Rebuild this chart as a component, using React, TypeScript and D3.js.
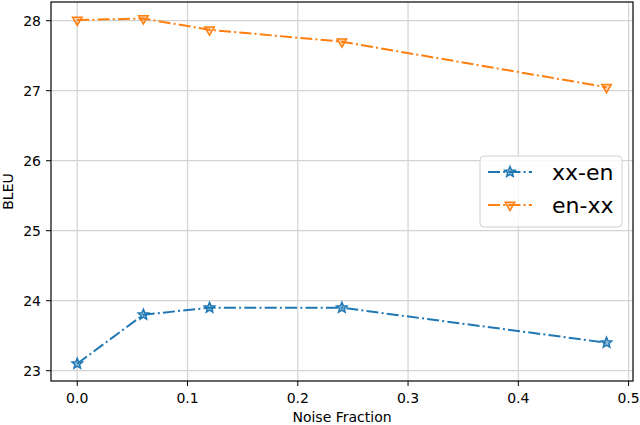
import React from "react";
import * as d3 from "d3";

const noiseFractions = [0.0, 0.06, 0.12, 0.24, 0.48];
const xxEn = [23.1, 23.8, 23.9, 23.9, 23.4];
const enXx = [28.01, 28.03, 27.87, 27.7, 27.05];
const xTicks = [0.0, 0.1, 0.2, 0.3, 0.4, 0.5];
const yTicks = [23, 24, 25, 26, 27, 28];
const seriesNames = ["xx-en", "en-xx"];
const seriesColors = ["#1f77b4", "#ff7f0e"];

const W = 640;
const H = 425;
const left = 51;
const right = 633;
const top = 2;
const bottom = 381;

const FONT = "DejaVu Sans, sans-serif";
const DASH = "12,3.2,2,3.2";

function starPath(cx: number, cy: number, r: number) {
  const pts: string[] = [];
  const inner = r * 0.45;
  for (let i = 0; i < 10; i++) {
    const ang = -Math.PI / 2 + (i * Math.PI) / 5;
    const rr = i % 2 === 0 ? r : inner;
    pts.push(`${cx + rr * Math.cos(ang)},${cy + rr * Math.sin(ang)}`);
  }
  return "M" + pts.join("L") + "Z";
}

function triPath(cx: number, cy: number, r: number) {
  const pts: string[] = [];
  for (let i = 0; i < 3; i++) {
    const ang = Math.PI / 2 + (i * 2 * Math.PI) / 3;
    pts.push(`${cx + r * Math.cos(ang)},${cy + r * Math.sin(ang)}`);
  }
  return "M" + pts.join("L") + "Z";
}

function Marker({ kind, x, y, color }: { kind: number; x: number; y: number; color: string }) {
  if (kind === 0) {
    return <path d={starPath(x, y, 5.5)} fill={color} fillOpacity={0.45} stroke={color} strokeWidth={1.5} />;
  }
  return <path d={triPath(x, y, 5.5)} fill={color} fillOpacity={0.3} stroke={color} strokeWidth={1.5} />;
}

export default function App() {
  const x = d3.scaleLinear().domain([-0.0238, 0.504]).range([left, right]);
  const y = d3.scaleLinear().domain([22.853, 28.267]).range([bottom, top]);
  const line = d3
    .line<number>()
    .x((_, i) => x(noiseFractions[i]))
    .y((d) => y(d));
  const series = [xxEn, enXx];

  return (
    <svg
      width={W}
      height={H}
      style={{ position: "absolute", left: 0, top: 0, background: "#fff" }}
      fontFamily={FONT}
    >
      <rect x={0} y={0} width={W} height={H} fill="#fff" />
      {xTicks.map((t) => (
        <line key={"gx" + t} x1={x(t)} x2={x(t)} y1={top} y2={bottom} stroke="#d3d3d3" strokeWidth={1.2} />
      ))}
      {yTicks.map((t) => (
        <line key={"gy" + t} x1={left} x2={right} y1={y(t)} y2={y(t)} stroke="#d3d3d3" strokeWidth={1.2} />
      ))}
      {series.map((s, si) => (
        <g key={"s" + si}>
          <path d={line(s) || ""} fill="none" stroke={seriesColors[si]} strokeWidth={2} strokeDasharray={DASH} />
          {s.map((v, i) => (
            <Marker key={i} kind={si} x={x(noiseFractions[i])} y={y(v)} color={seriesColors[si]} />
          ))}
        </g>
      ))}
      <rect x={left} y={top} width={right - left} height={bottom - top} fill="none" stroke="#000" strokeWidth={1.2} />
      {xTicks.map((t) => (
        <g key={"tx" + t}>
          <line x1={x(t)} x2={x(t)} y1={bottom} y2={bottom + 5} stroke="#000" strokeWidth={1} />
          <text x={x(t)} y={403} textAnchor="middle" fontSize={14} fill="#000">
            {d3.format(".1f")(t)}
          </text>
        </g>
      ))}
      {yTicks.map((t) => (
        <g key={"ty" + t}>
          <line x1={left - 5} x2={left} y1={y(t)} y2={y(t)} stroke="#000" strokeWidth={1} />
          <text x={41} y={y(t)} dy="0.36em" textAnchor="end" fontSize={14} fill="#000">
            {t}
          </text>
        </g>
      ))}
      <text x={342} y={422} textAnchor="middle" fontSize={14} fill="#000">
        Noise Fraction
      </text>
      <text transform={`translate(12.5,${(top + bottom) / 2}) rotate(-90)`} textAnchor="middle" fontSize={14} fill="#000">
        BLEU
      </text>
      <rect x={480} y={156} width={142} height={71} rx={4} fill="#fff" fillOpacity={0.8} stroke="#d0d0d0" strokeWidth={1} />
      {seriesNames.map((n, i) => {
        const ly = i === 0 ? 172 : 205;
        return (
          <g key={"lg" + n}>
            <line x1={488} x2={532} y1={ly} y2={ly} stroke={seriesColors[i]} strokeWidth={2} strokeDasharray={DASH} />
            <Marker kind={i} x={510} y={ly} color={seriesColors[i]} />
            <text x={552} y={ly} dy="0.36em" fontSize={22} fill="#000">
              {n}
            </text>
          </g>
        );
      })}
    </svg>
  );
}
